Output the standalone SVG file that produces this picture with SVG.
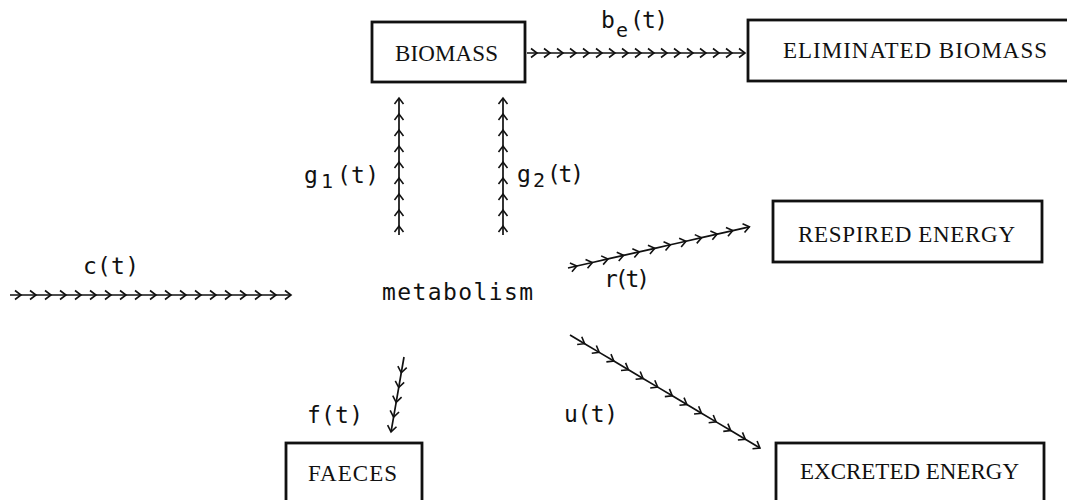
<svg xmlns="http://www.w3.org/2000/svg" width="1067" height="500" viewBox="0 0 1067 500">
<style>
.box{fill:#fff;stroke:#111;stroke-width:2.8}
.bt{font-family:"Liberation Serif","Times New Roman",serif;font-size:23px;fill:#111}
.lb{font-family:"DejaVu Sans Mono","Liberation Mono",monospace;font-size:23px;fill:#111}
.sub{font-size:20px}
.flow{fill:none;stroke:#111;stroke-width:1.7;marker-mid:url(#ch);marker-end:url(#ch)}
</style>
<defs>
<marker id="ch" markerUnits="userSpaceOnUse" markerWidth="12" markerHeight="12" viewBox="-8 -6 10 12" refX="0" refY="0" orient="auto" overflow="visible">
<path d="M-6,-4.5 L0,0 L-6,4.5" fill="none" stroke="#111" stroke-width="1.6"/>
</marker>
</defs>
<rect width="1067" height="500" fill="#fff"/>

<g id="connectors">
<g id="c-flow"><path class="flow" d="M10,295 L21,295 L36,295 L51,295 L66,295 L81,295 L96,295 L111,295 L126,295 L141,295 L156,295 L171,295 L186,295 L201,295 L216,295 L231,295 L246,295 L261,295 L276,295 L291,295"/></g>
<g id="be-flow"><path class="flow" d="M527,53 L537,53 L550,53 L563,53 L576,53 L589,53 L602,53 L615,53 L628,53 L641,53 L654,53 L667,53 L680,53 L693,53 L706,53 L719,53 L732,53 L745,53"/></g>
<g id="g1-flow" transform="translate(399,235) rotate(-90)"><path class="flow" d="M0,0 L9,0 L25,0 L41,0 L57,0 L73,0 L89,0 L105,0 L121,0 L137,0"/></g>
<g id="g2-flow" transform="translate(503,235) rotate(-90)"><path class="flow" d="M0,0 L9,0 L25,0 L41,0 L57,0 L73,0 L89,0 L105,0 L121,0 L137,0"/></g>
<g id="r-flow" transform="translate(568,268) rotate(-12.79)"><path class="flow" d="M0,0 L9,0 L25,0 L41,0 L57,0 L73,0 L89,0 L105,0 L121,0 L137,0 L153,0 L169,0 L186,0"/></g>
<g id="u-flow" transform="translate(570,335) rotate(30.74)"><path class="flow" d="M0,0 L17,0 L34,0 L51,0 L68,0 L85,0 L102,0 L119,0 L136,0 L153,0 L170,0 L187,0 L204,0 L221,0"/></g>
<g id="f-flow" transform="translate(404,357) rotate(99.83)"><path class="flow" d="M0,0 L16,0 L31,0 L46,0 L61,0 L76,0"/></g>
</g>

<g id="labels">
<text class="lb" x="83" y="274" textLength="56" lengthAdjust="spacing">c(t)</text>
<text class="lb" x="601" y="28">b<tspan class="sub" x="616" y="37">e</tspan><tspan x="630" y="28" textLength="38" lengthAdjust="spacing">(t)</tspan></text>
<text class="lb" x="304" y="183">g<tspan class="sub" x="321" y="188">1</tspan><tspan x="337" y="183" textLength="42" lengthAdjust="spacing">(t)</tspan></text>
<text class="lb" x="517" y="182">g<tspan class="sub" x="533" y="187">2</tspan><tspan x="547" y="182" textLength="37" lengthAdjust="spacing">(t)</tspan></text>
<text class="lb" x="604" y="287" textLength="46" lengthAdjust="spacing">r(t)</text>
<text class="lb" x="564" y="422" textLength="54" lengthAdjust="spacing">u(t)</text>
<text class="lb" x="307" y="423" textLength="56" lengthAdjust="spacing">f(t)</text>
</g>

<g id="metabolism">
<text class="lb" x="382" y="300" textLength="151" lengthAdjust="spacing">metabolism</text>
</g>

<g id="biomass">
<rect class="box" x="372" y="22" width="153" height="60"/>
<text class="bt" x="395" y="61" textLength="103" lengthAdjust="spacing">BIOMASS</text>
</g>

<g id="eliminated-biomass">
<rect class="box" x="748" y="20" width="330" height="61"/>
<text class="bt" x="783" y="58" textLength="264" lengthAdjust="spacing">ELIMINATED BIOMASS</text>
</g>

<g id="respired-energy">
<rect class="box" x="773" y="201" width="269" height="61"/>
<text class="bt" x="798" y="242" textLength="217" lengthAdjust="spacing">RESPIRED ENERGY</text>
</g>

<g id="excreted-energy">
<rect class="box" x="776" y="443" width="268" height="70"/>
<text class="bt" x="800" y="479" textLength="219" lengthAdjust="spacing">EXCRETED ENERGY</text>
</g>

<g id="faeces">
<rect class="box" x="286" y="443" width="136" height="70"/>
<text class="bt" x="308" y="481" textLength="89" lengthAdjust="spacing">FAECES</text>
</g>
</svg>
